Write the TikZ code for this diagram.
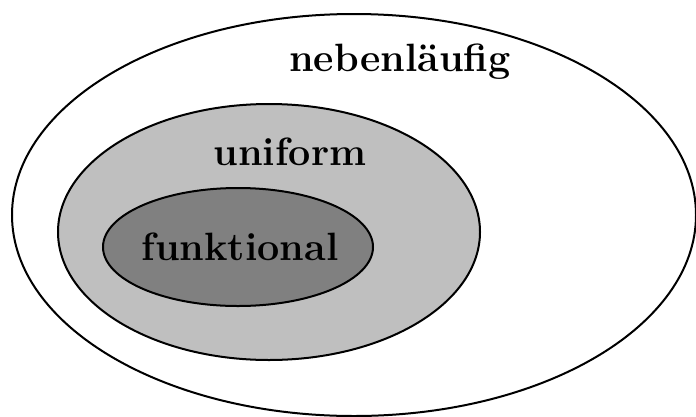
\documentclass[tikz,border=0pt]{standalone}
\begin{document}
\begin{tikzpicture}[x=1pt,y=-1pt,
  setline/.style={draw=black,line width=2pt},
  lbl/.style={font=\fontsize{39.5}{42}\selectfont\bfseries}]
\useasboundingbox (0,0) rectangle (696,416);
\begin{scope}
\clip (0,0) rectangle (696,416);
\draw[setline,fill=white] (354,215) ellipse [x radius=342,y radius=201];
\draw[setline,fill=black!25] (269,232) ellipse [x radius=211,y radius=128];
\draw[setline,fill=black!50] (238,247) ellipse [x radius=135,y radius=59];
\end{scope}
\node[lbl] (neb) at (400,62) {nebenläufig};
\node[lbl] (uni) at (290,152) {uniform};
\node[lbl] (fun) at (240,247) {funktional};
\end{tikzpicture}
\end{document}
